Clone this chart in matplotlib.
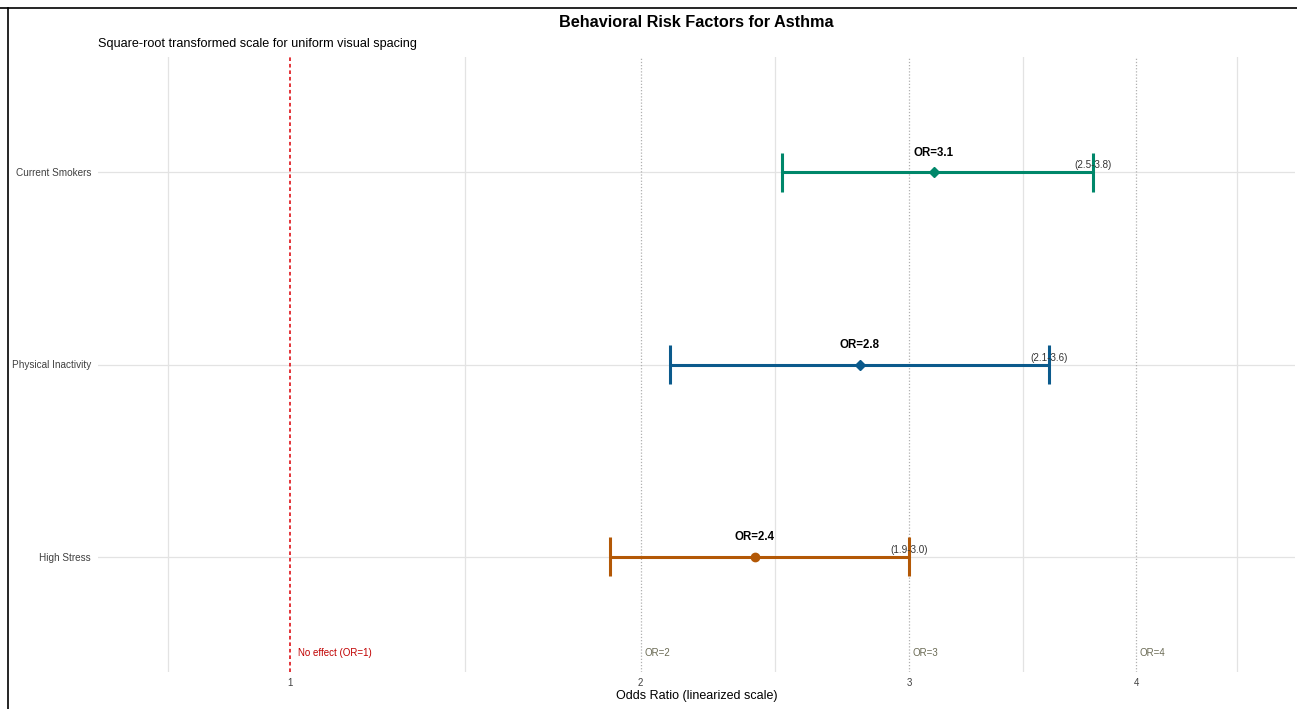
import numpy as np
import matplotlib
matplotlib.use("Agg")
import matplotlib.pyplot as plt
from matplotlib.lines import Line2D

plt.rcParams['font.family'] = ['Liberation Sans', 'DejaVu Sans']

categories = ["High Stress", "Physical Inactivity", "Current Smokers"]
odds_ratio = [2.4, 2.8, 3.1]
ci_low = [1.9, 2.1, 2.5]
ci_high = [3.0, 3.6, 3.8]
colors = ["#b35806", "#0b5a8c", "#00876a"]
markers = ["o", "D", "D"]
x_ticks = [1, 2, 3, 4]
minor_grid = [0.731, 1.457, 2.474, 3.482, 4.49]
ref_lines = [2, 3, 4]

fig = plt.figure(figsize=(12.97, 7.09), dpi=100)
ax = fig.add_axes([98/1297, (709-672)/709, (1295-98)/1297, 615/709])
ax.set_xscale('function', functions=(lambda v: np.sqrt(np.clip(v, 0, None)), np.square))
ax.set_xlim(0.597, 4.787)
ax.set_ylim(-0.6, 2.6)

for s in ax.spines.values():
    s.set_visible(False)

# grid
for g in minor_grid:
    ax.axvline(g, color="#e3e3e3", lw=0.9, zorder=0)
ys = np.arange(len(categories))
for y in ys:
    ax.axhline(y, color="#e3e3e3", lw=0.9, zorder=0)

# reference lines
ax.axvline(1, color="#e0242a", lw=1.3, ls=(0, (2, 1.6)), zorder=1)
for r in ref_lines:
    ax.axvline(r, color="#b0b0b0", lw=0.9, ls=(0, (1, 1.5)), zorder=1)

ax.annotate("No effect (OR=1)", xy=(1, -0.5), xytext=(5.5, 0), textcoords="offset points",
            color="#c00000", fontsize=7, va="center", ha="left")
for r in ref_lines:
    ax.annotate(f"OR={r}", xy=(r, -0.5), xytext=(2.5, 0), textcoords="offset points",
                color="#6b6b55", fontsize=7, va="center", ha="left")

for y, orv, lo, hi, c, m in zip(ys, odds_ratio, ci_low, ci_high, colors, markers):
    ax.plot([lo, hi], [y, y], color=c, lw=2.2, solid_capstyle="butt", zorder=3)
    for e in (lo, hi):
        ax.plot([e, e], [y - 0.1, y + 0.1], color=c, lw=2.2, solid_capstyle="butt", zorder=3)
    ax.plot([orv], [y], marker=m, color=c, ms=6 if m == "o" else 5.5, zorder=4, lw=0)
    ax.annotate(f"OR={orv}", xy=(orv, y), xytext=(0, 14), textcoords="offset points",
                ha="center", va="center", fontsize=8.3, fontweight="bold", color="black")
    ax.annotate(f"({lo}-{hi:.1f})", xy=(hi, y), xytext=(0, 5), textcoords="offset points",
                ha="center", va="center", fontsize=7.1, color="#333333", zorder=5)

ax.set_yticks(ys)
ax.set_yticklabels(categories, fontsize=7.2, color="#404040")
ax.set_xticks(x_ticks)
ax.set_xticklabels([str(t) for t in x_ticks], fontsize=7, color="#404040")
ax.xaxis.set_minor_locator(matplotlib.ticker.NullLocator())
ax.tick_params(axis="both", length=0)
ax.tick_params(axis="x", pad=4)
ax.tick_params(axis="y", pad=5)
ax.set_xlabel("Odds Ratio (linearized scale)", fontsize=9, labelpad=2)

fig.text(696/1297, 1 - 22.5/709, "Behavioral Risk Factors for Asthma", ha="center", va="center",
         fontsize=11.7, fontweight="bold")
fig.text(98/1297, 1 - 44.5/709, "Square-root transformed scale for uniform visual spacing",
         ha="left", va="center", fontsize=9.05)

# outer frame (top and left)
fig.add_artist(Line2D([0, 1], [1 - 7.5/709, 1 - 7.5/709], color="black", lw=1.2, transform=fig.transFigure))
fig.add_artist(Line2D([7.5/1297, 7.5/1297], [0, 1 - 7.5/709], color="black", lw=1.2, transform=fig.transFigure))

fig.savefig("out.png", dpi=100)
